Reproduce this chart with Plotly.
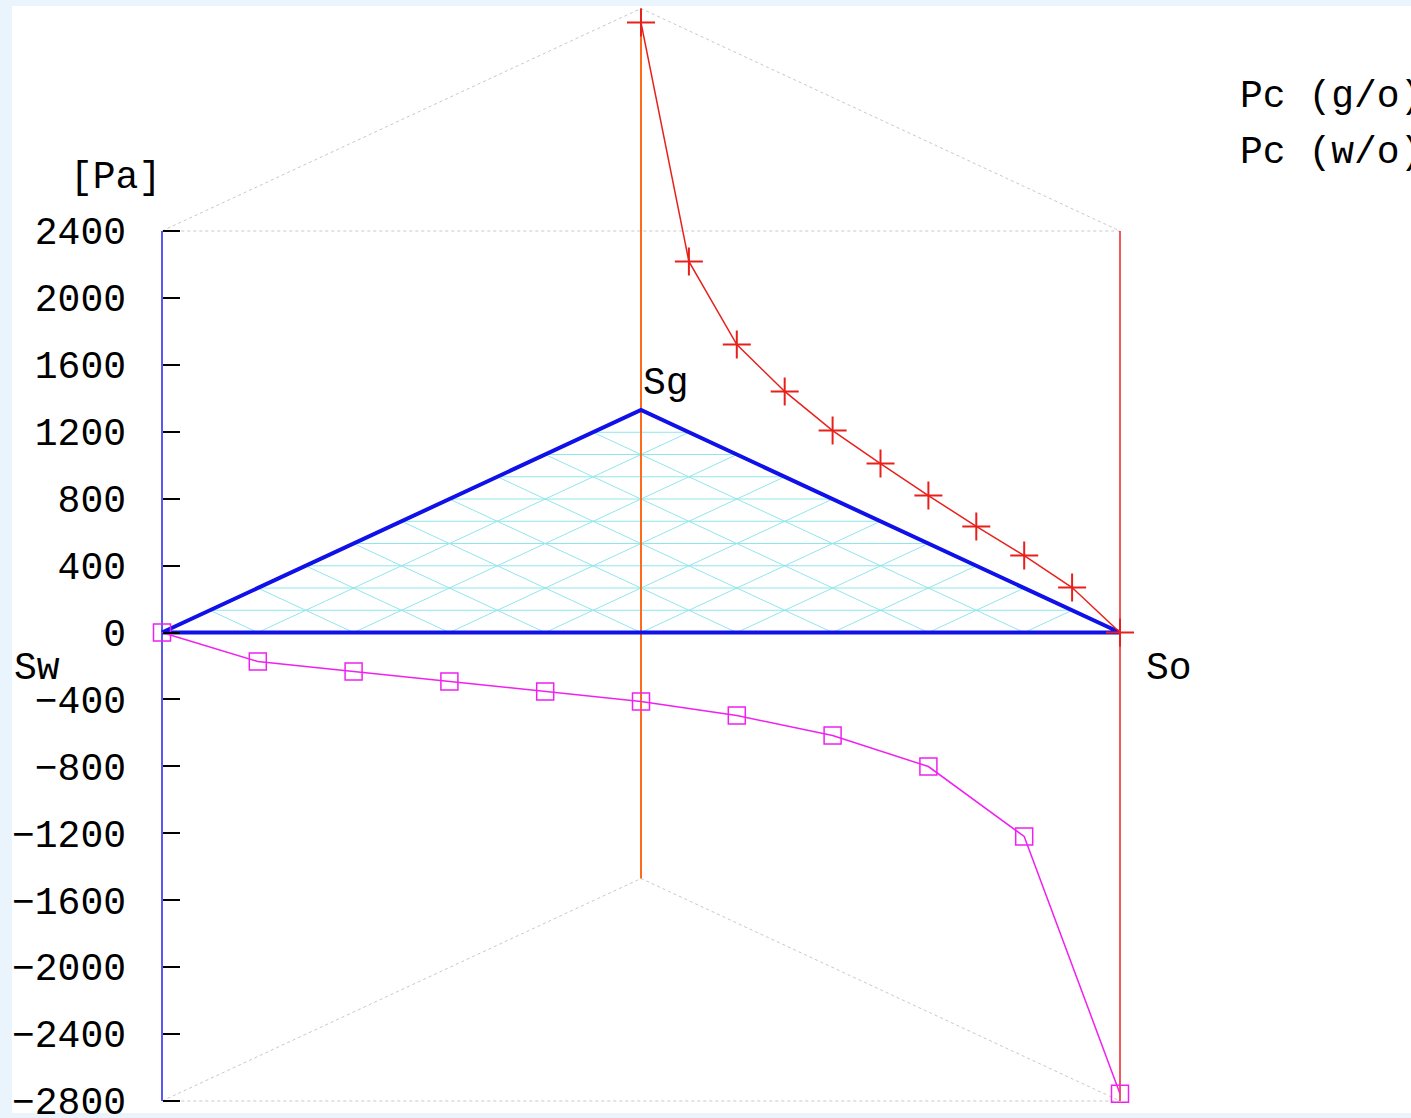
import plotly.graph_objects as go

# ---------------- data ----------------
# Pc (g/o) along the Sg-So edge (Sw = 0), Sg from 1 down to 0
go_sg = [1.0, 0.9, 0.8, 0.7, 0.6, 0.5, 0.4, 0.3, 0.2, 0.1, 0.0]
go_pc = [2316, 1021, 657, 510, 409, 345, 287, 235, 194, 136, 0]

# Pc (w/o) along the Sw-So edge (Sg = 0), Sw from 1 down to 0
wo_sw = [1.0, 0.9, 0.8, 0.7, 0.6, 0.5, 0.4, 0.3, 0.2, 0.1, 0.0]
wo_pc = [0, -173, -233, -293, -353, -412, -496, -615, -801, -1219, -2756]

series_names = ["Pc (g/o)", "Pc (w/o)"]
tick_vals = [-2800, -2400, -2000, -1600, -1200, -800, -400, 0, 400, 800, 1200, 1600, 2000, 2400]
z_min, z_max = -2800, 2400
corner_labels = ["Sw", "Sg", "So"]

# ---------------- view / projection ----------------
H = 1330.0  # vertical lift of the Sg apex (in Pa units) for the oblique view


def proj(sw, sg, so, z):
    return so + 0.5 * sg, z + sg * H


FONT = "Liberation Mono, Courier New, monospace"
W, HT = 1411, 1118
ML, MR = 100, 211            # plot area spans pixels 100 .. 1200
PW = W - ML - MR
X0PX, X1PX = 162, 1120       # pixel positions of the Sw and So corners
u = X1PX - X0PX
x_lo = (ML - X0PX) / u
x_hi = 1 + (W - MR - X1PX) / u
s = (z_max - z_min) / 870.0
y_top = z_max + 231 * s
y_bot = z_min - (HT - 1101) * s

fig = go.Figure()

# ternary grid at z = 0
gx, gy = [], []
for k in range(1, 10):
    f = k / 10
    for a, b in [((1 - f, f, 0), (0, f, 1 - f)),
                 ((f, 1 - f, 0), (f, 0, 1 - f)),
                 ((0, 1 - f, f), (1 - f, 0, f))]:
        x0, y0 = proj(*a, 0)
        x1, y1 = proj(*b, 0)
        gx += [x0, x1, None]
        gy += [y0, y1, None]
fig.add_trace(go.Scatter(x=gx, y=gy, mode="lines", line=dict(color="#90e6ec", width=1),
                         hoverinfo="skip", showlegend=False))

# dotted bounding triangles at top and bottom
for z in (z_min, z_max):
    pts = [proj(1, 0, 0, z), proj(0, 1, 0, z), proj(0, 0, 1, z), proj(1, 0, 0, z)]
    fig.add_trace(go.Scatter(x=[p[0] for p in pts], y=[p[1] for p in pts], mode="lines",
                             line=dict(color="#c8c8c8", width=1, dash="dot"),
                             hoverinfo="skip", showlegend=False))

# vertical corner lines
for corner, col, w in [((1, 0, 0), "#2222ee", 1.5), ((0, 1, 0), "#ff6a1a", 2), ((0, 0, 1), "#ee2020", 1.5)]:
    p0 = proj(*corner, z_min)
    p1 = proj(*corner, z_max)
    fig.add_trace(go.Scatter(x=[p0[0], p1[0]], y=[p0[1], p1[1]], mode="lines",
                             line=dict(color=col, width=w), hoverinfo="skip", showlegend=False))

# base triangle outline
tri = [proj(1, 0, 0, 0), proj(0, 0, 1, 0), proj(0, 1, 0, 0), proj(1, 0, 0, 0)]
fig.add_trace(go.Scatter(x=[p[0] for p in tri], y=[p[1] for p in tri], mode="lines",
                         line=dict(color="#1010e8", width=4), hoverinfo="skip", showlegend=False))

# Pc (g/o)
pts = [proj(0, sg, 1 - sg, pc) for sg, pc in zip(go_sg, go_pc)]
fig.add_trace(go.Scatter(x=[p[0] for p in pts], y=[p[1] for p in pts], mode="lines+markers",
                         name=series_names[0], line=dict(color="#e8201c", width=1.5),
                         marker=dict(symbol="cross-thin", size=20, line=dict(color="#e8201c", width=2)),
                         showlegend=False, cliponaxis=False))

# Pc (w/o)
pts = [proj(sw, 0, 1 - sw, pc) for sw, pc in zip(wo_sw, wo_pc)]
fig.add_trace(go.Scatter(x=[p[0] for p in pts], y=[p[1] for p in pts], mode="lines+markers",
                         name=series_names[1], line=dict(color="#f020f0", width=1.5),
                         marker=dict(symbol="square-open", size=17, color="#f020f0",
                                     line=dict(color="#f020f0", width=1.5)),
                         showlegend=False, cliponaxis=False))

annots = []
tf = dict(family=FONT, size=38, color="black")
# corner labels
sw_p = proj(1, 0, 0, 0)
sg_p = proj(0, 1, 0, 0)
so_p = proj(0, 0, 1, 0)
annots.append(dict(x=sw_p[0], y=sw_p[1], text=corner_labels[0], showarrow=False, xanchor="right",
                   yanchor="middle", xshift=-100, yshift=-36, font=tf))
annots.append(dict(x=sg_p[0], y=sg_p[1], text=corner_labels[1], showarrow=False, xanchor="left",
                   yanchor="bottom", xshift=0, yshift=3, font=tf))
annots.append(dict(x=so_p[0], y=so_p[1], text=corner_labels[2], showarrow=False, xanchor="left",
                   yanchor="middle", xshift=24, yshift=-36, font=tf))
annots.append(dict(x=sw_p[0], y=z_max, text="[Pa]", showarrow=False, xanchor="center", yanchor="middle",
                   xshift=-47, yshift=54, font=tf))
# key (text only; samples fall outside the page on the right)
for i, nm in enumerate(series_names):
    annots.append(dict(xref="paper", yref="paper", x=(1238 - ML) / PW,
                       y=1 - (97 + 55 * i) / HT, text=nm, showarrow=False, xanchor="left",
                       yanchor="middle", font=tf))

fig.update_layout(
    width=W, height=HT,
    margin=dict(l=ML, r=MR, t=0, b=0, pad=0, autoexpand=False),
    paper_bgcolor="#eaf4fc",
    plot_bgcolor="rgba(0,0,0,0)",
    annotations=annots,
    shapes=[dict(type="rect", xref="paper", yref="paper", layer="below",
                 x0=(12 - ML) / PW, x1=(W + 5 - ML) / PW,
                 y0=1 - 1113 / HT, y1=1 - 6 / HT, fillcolor="white", line=dict(width=0))],
    xaxis=dict(range=[x_lo, x_hi], visible=False, showgrid=False, zeroline=False, automargin=False),
    yaxis=dict(range=[y_bot, y_top], showgrid=False, zeroline=False, showline=False,
               anchor="free", position=(X0PX - ML) / PW, automargin=False,
               tickvals=tick_vals, ticks="inside", ticklen=17, tickwidth=2, tickcolor="black",
               ticklabelstandoff=36, ticklabeloverflow="allow", tickfont=tf),
)

fig.write_html("out.html", config={"displayModeBar": False},
               post_script="document.body.style.margin='0';document.body.style.overflow='hidden';")
